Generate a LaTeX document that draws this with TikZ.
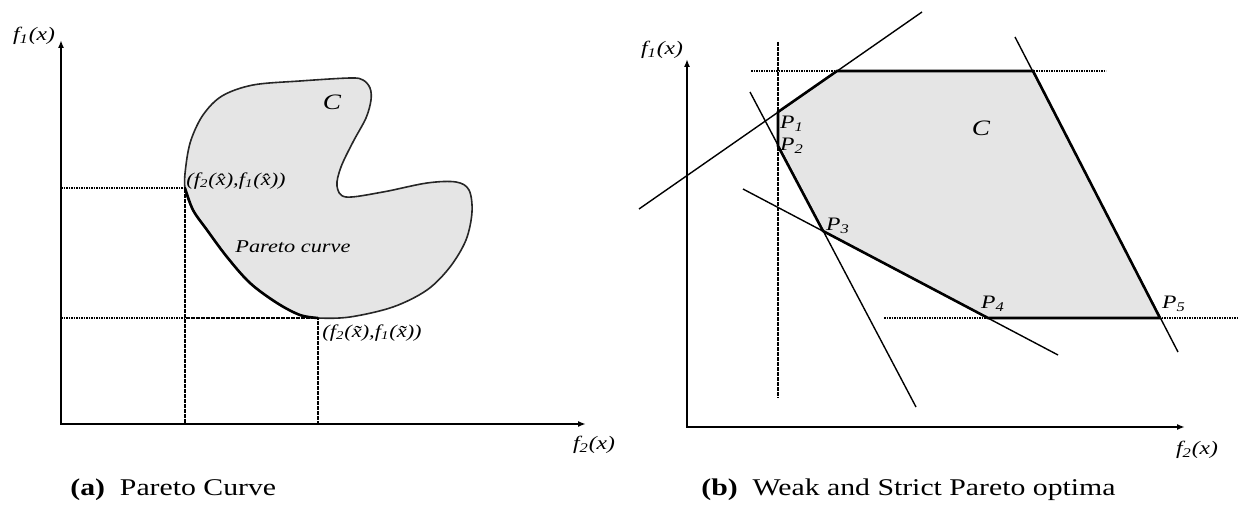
\documentclass[tikz,border=0pt]{standalone}
\usepackage{fontspec}
\setmainfont{Liberation Serif}[FakeStretch=1.24]
\usetikzlibrary{arrows.meta}
\begin{document}
\begin{tikzpicture}[x=0.5pt,y=-0.5pt,
  axis/.style={line width=1pt,{Latex[length=4pt,width=3pt]}-{Latex[length=4pt,width=3pt]}},
  dots/.style={line width=0.9pt,dash pattern=on 0.8pt off 0.45pt},
  thinline/.style={line width=0.7pt},
  bound/.style={line width=1.3pt},
  lbl/.style={font=\fontsize{9.5}{10}\selectfont\itshape, inner sep=0pt},
  captxt/.style={font=\fontsize{12}{14}\selectfont, inner sep=0pt, anchor=west}
]
\useasboundingbox (0,0) rectangle (1238,513);

% ---------------- left panel ----------------
\coordinate (O1) at (61,424);
\coordinate (Y1) at (61,40);
\coordinate (X1) at (586,424);
\coordinate (A) at (185,188);
\coordinate (B) at (318,318);
\coordinate (ya) at (61,188);
\coordinate (yb) at (61,318);
\coordinate (xa) at (185,424);
\coordinate (xb) at (318,424);

\filldraw[fill=black!10, draw=black!85, line width=0.8pt]
  plot[smooth cycle, tension=0.55] coordinates {
  (185,188) (186,165) (191,140) (203,115) (222,96) (253,85) (300,81) (350,78)
  (363,80) (370,88) (371,100) (366,118) (353,142) (341,167) (337,186) (346,197)
  (383,192) (427,183) (456,182) (469,190) (472,212) (466,240) (450,267) (427,290)
  (393,307) (350,317) (318,318) (300,315) (277,303) (250,283) (227,257) (207,230)
  (193,210)};
\draw[bound] plot[smooth, tension=0.55] coordinates {
  (185,188) (193,210) (207,230) (227,257) (250,283) (277,303) (300,315) (318,318)};

\draw[dots] (ya) -- (A) -- (xa);
\draw[dots] (yb) -- (B) -- (xb);
\draw[axis] (Y1) -- (O1) -- (X1);

\node[lbl] (f1a) at (34,36) {f\textsubscript{1}(x)};
\node[lbl] (f2a) at (594,445) {f\textsubscript{2}(x)};
\node[lbl, font=\fontsize{11}{12}\selectfont\itshape] (C1) at (332,102) {C};
\node[lbl, anchor=west, font=\fontsize{9}{10}\selectfont\itshape] (pc) at (235,247) {Pareto curve};
\node[lbl, anchor=west, font=\fontsize{9}{10}\selectfont\itshape] (lA) at (186,181)
  {(f\textsubscript{2}(\^{x}),f\textsubscript{1}(\^{x}))};
\node[lbl, anchor=west, font=\fontsize{9}{10}\selectfont\itshape] (lB) at (322,333)
  {(f\textsubscript{2}(\~{x}),f\textsubscript{1}(\~{x}))};

% ---------------- right panel ----------------
\coordinate (O2) at (687,427);
\coordinate (Y2) at (687,59);
\coordinate (X2) at (1185,427);
\coordinate (P1) at (778,112);
\coordinate (Q1) at (837,71);
\coordinate (Q2) at (1033,71);
\coordinate (P5) at (1160,318);
\coordinate (P4) at (988,318);
\coordinate (P3) at (823,231);
\coordinate (P2) at (778,146);

\fill[black!10] (P1) -- (Q1) -- (Q2) -- (P5) -- (P4) -- (P3) -- (P2) -- cycle;

\coordinate (L1a) at (639,209); \coordinate (L1b) at (922,12);
\coordinate (L2a) at (750,92);  \coordinate (L2b) at (916,407);
\coordinate (L3a) at (743,189); \coordinate (L3b) at (1058,355);
\coordinate (L5a) at (1015,37); \coordinate (L5b) at (1178,352);
\draw[thinline] (L1a) -- (L1b);
\draw[thinline] (L2a) -- (L2b);
\draw[thinline] (L3a) -- (L3b);
\draw[thinline] (L5a) -- (L5b);

\coordinate (Ta) at (751,71);  \coordinate (Tb) at (1106,71);
\coordinate (Va) at (778,42);  \coordinate (Vb) at (778,398);
\coordinate (Ba) at (884,318); \coordinate (Bb) at (1238,318);
\draw[dots] (Ta) -- (Tb);
\draw[dots] (Va) -- (Vb);
\draw[dots] (Ba) -- (Bb);

\draw[bound] (P1) -- (Q1) -- (Q2) -- (P5) -- (P4) -- (P3) -- (P2) -- cycle;
\draw[axis] (Y2) -- (O2) -- (X2);

\node[lbl] (f1b) at (662,50) {f\textsubscript{1}(x)};
\node[lbl] (f2b) at (1197,450) {f\textsubscript{2}(x)};
\node[lbl, font=\fontsize{11}{12}\selectfont\itshape] (C2) at (981,128) {C};
\node[lbl] (p1) at (792,124) {P\textsubscript{1}};
\node[lbl] (p2) at (792,146) {P\textsubscript{2}};
\node[lbl] (p3) at (838,226) {P\textsubscript{3}};
\node[lbl] (p4) at (993,304) {P\textsubscript{4}};
\node[lbl] (p5) at (1174,304) {P\textsubscript{5}};

% ---------------- captions ----------------
\node[captxt] (capA) at (70,490) {\textbf{(a)}\ \ Pareto Curve};
\node[captxt] (capB) at (701,490) {\textbf{(b)}\ \ Weak and Strict Pareto optima};
\end{tikzpicture}
\end{document}
